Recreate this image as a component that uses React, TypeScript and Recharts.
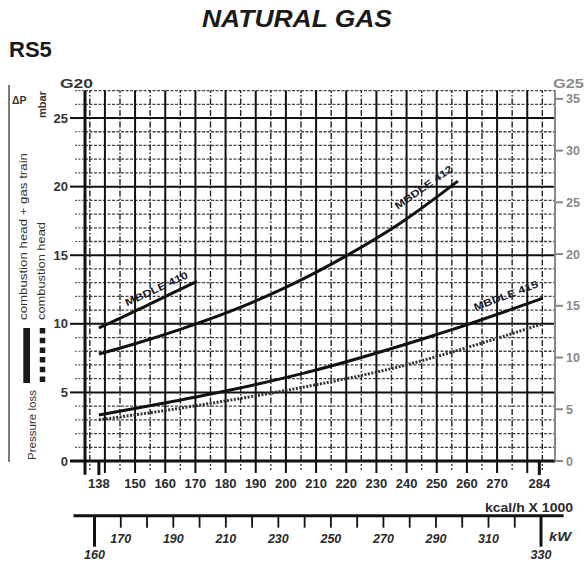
import React from 'react';
import { ComposedChart, Line, XAxis, YAxis, ReferenceLine, ReferenceDot } from 'recharts';

const FONT = '"Liberation Sans", Arial, Helvetica, sans-serif';

// ---- curve data (kcal/h x 1000 -> mbar, G20 scale) ----
const kcal410 = [138, 146, 154, 162, 170.5];
const mbar410 = [9.7, 10.5, 11.35, 12.2, 13.1];

const kcal412 = [138, 150, 165, 181.5, 198, 220, 238, 257];
const mbar412 = [7.8, 8.55, 9.6, 10.9, 12.45, 14.95, 17.35, 20.4];

const kcal415 = [138, 158, 180, 205, 244, 254, 285];
const mbar415 = [3.35, 4.15, 5.1, 6.35, 8.8, 9.5, 11.85];

const kcalHead = [138, 160, 180, 205, 238, 265, 285];
const mbarHead = [3.0, 3.68, 4.38, 5.35, 6.9, 8.6, 10.0];

// ---- curve labels ----
const curveNames = ['MBDLE 410', 'MBDLE 412', 'MBDLE 415'];
const curveLabelKcal = [157.2, 245.8, 273.0];
const curveLabelMbar = [12.5, 19.9, 12.0];
const curveLabelAngle = [-25, -35, -20.5];

// ---- axes / ticks ----
const X_DOMAIN: [number, number] = [133.4, 289.2];
const Y_DOMAIN: [number, number] = [0, 27];
const G25_DOMAIN: [number, number] = [0, 35.8];
const KW_DOMAIN: [number, number] = [152, 338.6];

const xSolid = [140, 150, 160, 170, 180, 190, 200, 210, 220, 230, 240, 250, 260, 270, 280];
const xDashed = [135, 145, 155, 165, 175, 185, 195, 205, 215, 225, 235, 245, 255, 265, 275, 285];
const xEnds = [138, 284];
const xLabels = [138, 150, 160, 170, 180, 190, 200, 210, 220, 230, 240, 250, 260, 270, 284];
const xAllTicks = [135, 138, 140, 145, 150, 155, 160, 165, 170, 175, 180, 185, 190, 195, 200, 205, 210, 215, 220, 225, 230, 235, 240, 245, 250, 255, 260, 265, 270, 275, 280, 284, 285];

const yMajor = [0, 5, 10, 15, 20, 25];
const yMinor = [1, 2, 3, 4, 6, 7, 8, 9, 11, 12, 13, 14, 16, 17, 18, 19, 21, 22, 23, 24, 26, 27];
const yAllTicks = [0, 1, 2, 3, 4, 5, 6, 7, 8, 9, 10, 11, 12, 13, 14, 15, 16, 17, 18, 19, 20, 21, 22, 23, 24, 25, 26, 27];
const g25Ticks = [0, 5, 10, 15, 20, 25, 30, 35];

const kwTicks = [160, 170, 180, 190, 200, 210, 220, 230, 240, 250, 260, 270, 280, 290, 300, 310, 320, 330];
const kwLabels = [170, 190, 210, 230, 250, 270, 290, 310];
const kwEnds = [160, 330];

const pts = (xs: number[], ys: number[]) => xs.map((k, i) => ({ k, v: ys[i] }));

const KcalTick = (p: any) => {
  const { x, y, payload } = p;
  const v = payload.value;
  return (
    <g>
      {xEnds.includes(v) && <line x1={x} x2={x} y1={y} y2={y + 14} stroke="#111" strokeWidth={3} />}
      {xSolid.includes(v) && <line x1={x} x2={x} y1={y} y2={y + 12} stroke="#111" strokeWidth={2} />}
      {xDashed.includes(v) && (
        <line x1={x} x2={x} y1={y + 3} y2={y + 11} stroke="#333" strokeWidth={1.3} strokeDasharray="2 2" />
      )}
      {xLabels.includes(v) && (
        <text x={x} y={y + 27} textAnchor="middle" fontFamily={FONT} fontWeight="bold" fontSize={13} fill="#2a2a2a">
          {v}
        </text>
      )}
    </g>
  );
};

const G20Tick = (p: any) => {
  const { x, y, payload } = p;
  const v = payload.value;
  if (yMajor.includes(v)) {
    return (
      <g>
        <line x1={x - 15} x2={x} y1={y} y2={y} stroke="#111" strokeWidth={v === 0 ? 3 : 2} />
        <text x={x - 17} y={y + 4.5} textAnchor="end" fontFamily={FONT} fontWeight="bold" fontSize={13} fill="#333">
          {v}
        </text>
      </g>
    );
  }
  return <line x1={x - 10} x2={x} y1={y} y2={y} stroke="#555" strokeWidth={1.2} strokeDasharray="2 1.5" />;
};

const G25Tick = (p: any) => {
  const { x, y, payload } = p;
  const v = payload.value;
  return (
    <g>
      <line x1={x} x2={x + 8} y1={y} y2={y} stroke="#888" strokeWidth={2} />
      <text x={x + 11} y={y + 4.5} textAnchor="start" fontFamily={FONT} fontWeight="bold" fontSize={12.5} fill="#888">
        {v}
      </text>
    </g>
  );
};

const KwTick = (p: any) => {
  const { x, y, payload } = p;
  const v = payload.value;
  const isEnd = kwEnds.includes(v);
  return (
    <g>
      <line x1={x} x2={x} y1={y} y2={y + (isEnd ? 31 : 12)} stroke="#111" strokeWidth={isEnd ? 3 : 1.8} />
      {kwLabels.includes(v) && (
        <text x={x} y={y + 27} textAnchor="middle" fontFamily={FONT} fontWeight="bold" fontStyle="italic" fontSize={12.5} fill="#2a2a2a">
          {v}
        </text>
      )}
      {isEnd && (
        <text x={x} y={y + 43.5} textAnchor="middle" fontFamily={FONT} fontWeight="bold" fontStyle="italic" fontSize={12.5} fill="#2a2a2a">
          {v}
        </text>
      )}
    </g>
  );
};

const makeCurveLabel = (i: number) => (props: any) => {
  const vb = props.viewBox || {};
  const cx = (vb.x || 0) + (vb.width || 0) / 2;
  const cy = (vb.y || 0) + (vb.height || 0) / 2;
  return (
    <text
      x={cx}
      y={cy}
      textAnchor="middle"
      dominantBaseline="middle"
      transform={`rotate(${curveLabelAngle[i]} ${cx} ${cy})`}
      fontFamily={FONT}
      fontWeight="bold"
      fontSize={10}
      fill="#1a1a2a"
      textLength={68}
      lengthAdjust="spacingAndGlyphs"
    >
      {curveNames[i]}
    </text>
  );
};

export default function App() {
  return (
    <div style={{ position: 'absolute', left: 0, top: 0, width: 587, height: 564, background: '#fff', overflow: 'hidden' }}>
      <div style={{ position: 'absolute', left: 0, top: 0 }}>
        <ComposedChart width={587} height={564} margin={{ top: 90.6, right: 0, bottom: 0, left: 0 }}>
          <XAxis
            type="number"
            dataKey="k"
            domain={X_DOMAIN}
            allowDataOverflow
            ticks={xAllTicks}
            interval={0}
            tickSize={0}
            tickMargin={0}
            tickLine={false}
            axisLine={false}
            height={103}
            tick={KcalTick}
          />
          <YAxis
            type="number"
            domain={Y_DOMAIN}
            allowDataOverflow
            ticks={yAllTicks}
            interval={0}
            width={85}
            tickSize={0}
            tickMargin={0}
            tickLine={false}
            axisLine={false}
            tick={G20Tick}
          />
          <YAxis
            yAxisId="g25"
            orientation="right"
            type="number"
            domain={G25_DOMAIN}
            allowDataOverflow
            ticks={g25Ticks}
            interval={0}
            width={32}
            tickSize={0}
            tickMargin={0}
            tickLine={false}
            axisLine={{ stroke: '#888', strokeWidth: 2 }}
            tick={G25Tick}
          />
          {yMinor.map((v) => (
            <ReferenceLine key={'hm' + v} y={v} stroke="#444" strokeWidth={1.3} strokeDasharray="3 1.5" />
          ))}
          {xDashed.map((v) => (
            <ReferenceLine key={'vd' + v} x={v} stroke="#222" strokeWidth={1.4} strokeDasharray="6 2 1.5 2" />
          ))}
          {xSolid.map((v) => (
            <ReferenceLine key={'vs' + v} x={v} stroke="#111" strokeWidth={2} />
          ))}
          {yMajor.map((v) => (
            <ReferenceLine key={'hs' + v} y={v} stroke="#111" strokeWidth={v === 0 ? 3 : 2} />
          ))}
          <ReferenceLine
            segment={[
              { x: X_DOMAIN[0], y: -1 },
              { x: X_DOMAIN[0], y: Y_DOMAIN[1] },
            ]}
            ifOverflow="visible"
            stroke="#111"
            strokeWidth={3}
          />
          <Line data={pts(kcalHead, mbarHead)} dataKey="v" type="monotone" stroke="#333" strokeWidth={3} strokeDasharray="2 1.5" dot={false} isAnimationActive={false} />
          <Line data={pts(kcal410, mbar410)} dataKey="v" type="monotone" stroke="#111" strokeWidth={3} dot={false} isAnimationActive={false} />
          <Line data={pts(kcal412, mbar412)} dataKey="v" type="monotone" stroke="#111" strokeWidth={3} dot={false} isAnimationActive={false} />
          <Line data={pts(kcal415, mbar415)} dataKey="v" type="monotone" stroke="#111" strokeWidth={3} dot={false} isAnimationActive={false} />
          {curveNames.map((n, i) => (
            <ReferenceDot
              key={n}
              x={curveLabelKcal[i]}
              y={curveLabelMbar[i]}
              r={0.5}
              fill="none"
              stroke="none"
              ifOverflow="visible"
              label={makeCurveLabel(i)}
            />
          ))}
        </ComposedChart>
      </div>

      <div style={{ position: 'absolute', left: 0, top: 0 }}>
        <ComposedChart width={587} height={564} margin={{ top: 480, right: 23.4, bottom: 0, left: 73.5 }} data={kwTicks.map((kw) => ({ kw }))}>
          <XAxis
            type="number"
            dataKey="kw"
            domain={KW_DOMAIN}
            allowDataOverflow
            ticks={kwTicks}
            interval={0}
            tickSize={0}
            tickMargin={0}
            tickLine={false}
            axisLine={{ stroke: '#111', strokeWidth: 3 }}
            height={48.3}
            tick={KwTick}
          />
          <YAxis hide domain={[0, 1]} />
        </ComposedChart>
      </div>

      <svg width={587} height={564} style={{ position: 'absolute', left: 0, top: 0, pointerEvents: 'none' }}>
        <text x={297} y={27} textAnchor="middle" fontFamily={FONT} fontWeight="bold" fontStyle="italic" fontSize={23} fill="#1a1a1a" textLength={190} lengthAdjust="spacingAndGlyphs">
          NATURAL GAS
        </text>
        <text x={9} y={57} fontFamily={FONT} fontWeight="bold" fontSize={22} fill="#1a1a1a">
          RS5
        </text>
        <text x={60} y={88} fontFamily={FONT} fontWeight="bold" fontSize={12} fill="#333" textLength={33} lengthAdjust="spacingAndGlyphs">
          G20
        </text>
        <text x={553} y={88} fontFamily={FONT} fontWeight="bold" fontSize={12} fill="#888" textLength={31} lengthAdjust="spacingAndGlyphs">
          G25
        </text>
        <line x1={9} x2={9} y1={85} y2={462} stroke="#333" strokeWidth={1.3} />
        <text x={12} y={104} fontFamily={FONT} fontWeight="bold" fontSize={10.5} fill="#333">
          ΔP
        </text>
        <text x={46} y={118} transform="rotate(-90 46 118)" fontFamily={FONT} fontWeight="bold" fontSize={10} fill="#333" textLength={27} lengthAdjust="spacingAndGlyphs">
          mbar
        </text>
        <text x={26.5} y={320} transform="rotate(-90 26.5 320)" fontFamily={FONT} fontSize={11} fill="#333" textLength={167} lengthAdjust="spacingAndGlyphs">
          combustion head + gas train
        </text>
        <text x={45} y={320} transform="rotate(-90 45 320)" fontFamily={FONT} fontSize={11} fill="#333" textLength={98} lengthAdjust="spacingAndGlyphs">
          combustion head
        </text>
        <rect x={23.3} y={328} width={6.7} height={55} fill="#1a1a1a" />
        <line x1={42.5} x2={42.5} y1={328} y2={386} stroke="#1a1a1a" strokeWidth={5.5} strokeDasharray="5.5 4.2" />
        <text x={36} y={460} transform="rotate(-90 36 460)" fontFamily={FONT} fontSize={11} fill="#333" textLength={70} lengthAdjust="spacingAndGlyphs">
          Pressure loss
        </text>
        <text x={573} y={512} textAnchor="end" fontFamily={FONT} fontWeight="bold" fontSize={13} fill="#2a2a2a" textLength={88} lengthAdjust="spacingAndGlyphs">
          kcal/h X 1000
        </text>
        <text x={549} y={541} fontFamily={FONT} fontWeight="bold" fontStyle="italic" fontSize={12.5} fill="#2a2a2a" textLength={22} lengthAdjust="spacingAndGlyphs">
          kW
        </text>
      </svg>
    </div>
  );
}
